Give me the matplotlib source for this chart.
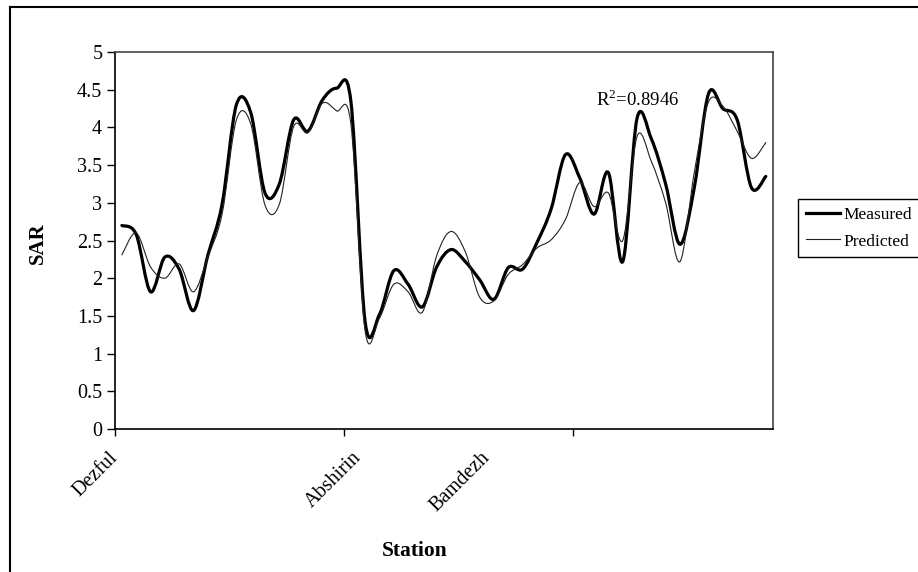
import matplotlib
matplotlib.use("Agg")
import matplotlib.pyplot as plt
from matplotlib.path import Path
from matplotlib.patches import PathPatch
from matplotlib.lines import Line2D

plt.rcParams["font.family"] = ["Liberation Serif", "DejaVu Serif"]
plt.rcParams["mathtext.fontset"] = "custom"
plt.rcParams["mathtext.rm"] = "Liberation Serif"

# SAR at the 46 sampling stations
measured = [2.70, 2.58, 1.82, 2.28, 2.12, 1.57, 2.30, 2.98, 4.30, 4.20,
            3.13, 3.25, 4.10, 3.95, 4.36, 4.52, 4.35, 1.42, 1.52, 2.10,
            1.92, 1.62, 2.15, 2.38, 2.22, 1.98, 1.72, 2.14, 2.12, 2.47,
            2.92, 3.64, 3.33, 2.85, 3.40, 2.22, 4.12, 3.85, 3.25, 2.45,
            3.20, 4.45, 4.25, 4.10, 3.20, 3.35]
predicted = [2.31, 2.60, 2.15, 2.00, 2.19, 1.82, 2.28, 2.85, 4.10, 4.05,
             2.97, 2.98, 4.01, 3.93, 4.32, 4.22, 4.05, 1.30, 1.47, 1.92,
             1.82, 1.55, 2.30, 2.62, 2.35, 1.75, 1.70, 2.05, 2.18, 2.40,
             2.51, 2.78, 3.27, 2.95, 3.13, 2.50, 3.88, 3.55, 3.00, 2.22,
             3.40, 4.34, 4.28, 3.95, 3.59, 3.80]
station_labels = {0: "Dezful", 17: "Abshirin", 26: "Bamdezh"}
r2_text = "R$^{2}$=0.8946"


def smooth_line(ys, lw, color="black"):
    # excel style smoothed line: bezier through every point
    n = len(ys)
    xs = list(range(n))
    verts = [(xs[0], ys[0])]
    codes = [Path.MOVETO]
    for i in range(n - 1):
        a = max(i - 1, 0)
        b = min(i + 2, n - 1)
        c1 = (xs[i] + (xs[i + 1] - xs[a]) / 6, ys[i] + (ys[i + 1] - ys[a]) / 6)
        c2 = (xs[i + 1] - (xs[b] - xs[i]) / 6, ys[i + 1] - (ys[b] - ys[i]) / 6)
        verts += [c1, c2, (xs[i + 1], ys[i + 1])]
        codes += [Path.CURVE4] * 3
    return PathPatch(Path(verts, codes), facecolor="none", edgecolor=color,
                     lw=lw, capstyle="round", joinstyle="round")


fig = plt.figure(figsize=(9.18, 5.72), dpi=100)
ax = fig.add_axes([0.125, 0.25, 0.717, 0.659])

ax.add_patch(smooth_line(measured, 2.3))
ax.add_patch(smooth_line(predicted, 0.8, "#222222"))

n = len(measured)
ax.set_xlim(-0.5, n - 0.5)
ax.set_ylim(0, 5)
ax.set_yticks([i * 0.5 for i in range(11)])
ax.set_yticklabels(["0", "0.5", "1", "1.5", "2", "2.5", "3", "3.5", "4", "4.5", "5"])
ax.set_xticks([-0.5, 15.5, 31.5])
ax.set_xticklabels([])
ax.set_xticks(list(station_labels.keys()), minor=True)
ax.set_xticklabels(list(station_labels.values()), minor=True, rotation=45,
                   ha="right", va="top")
ax.tick_params(axis="x", which="minor", length=0, pad=14, labelsize=14.5)
ax.tick_params(axis="x", which="major", length=5, width=1, direction="out")
ax.tick_params(axis="y", length=6, width=1, direction="out", labelsize=14.5, pad=3)
for s in ax.spines.values():
    s.set_linewidth(1.2)
ax.spines["top"].set_color("#444444")
ax.spines["right"].set_color("#444444")

ax.set_ylabel("SAR", fontsize=15, fontweight="bold")
ax.yaxis.set_label_coords(-0.102, 0.493)
ax.set_xlabel("Station", fontsize=15.5, fontweight="bold")
ax.xaxis.set_label_coords(0.456, -0.297)
ax.text(0.731, 0.873, r2_text, transform=ax.transAxes, fontsize=13.5, va="center")

handles = [Line2D([], [], color="black", lw=2.3),
           Line2D([], [], color="#222222", lw=0.8)]
fig.legend(handles, ["Measured", "Predicted"], loc="upper left",
           bbox_to_anchor=(797.7 / 918, 1 - 199 / 572), fontsize=12.5,
           frameon=True, fancybox=False, edgecolor="black", framealpha=1,
           handlelength=2.0, handletextpad=0.2, borderpad=0.45, labelspacing=0.6,
           borderaxespad=0)

# outer chart border (only left and top edges show)
fig.add_artist(Line2D([10 / 918, 10 / 918], [0, 1 - 7 / 572], color="black", lw=1.5))
fig.add_artist(Line2D([10 / 918, 1], [1 - 7 / 572, 1 - 7 / 572], color="black", lw=1.5))

fig.savefig("out.png", dpi=100)
